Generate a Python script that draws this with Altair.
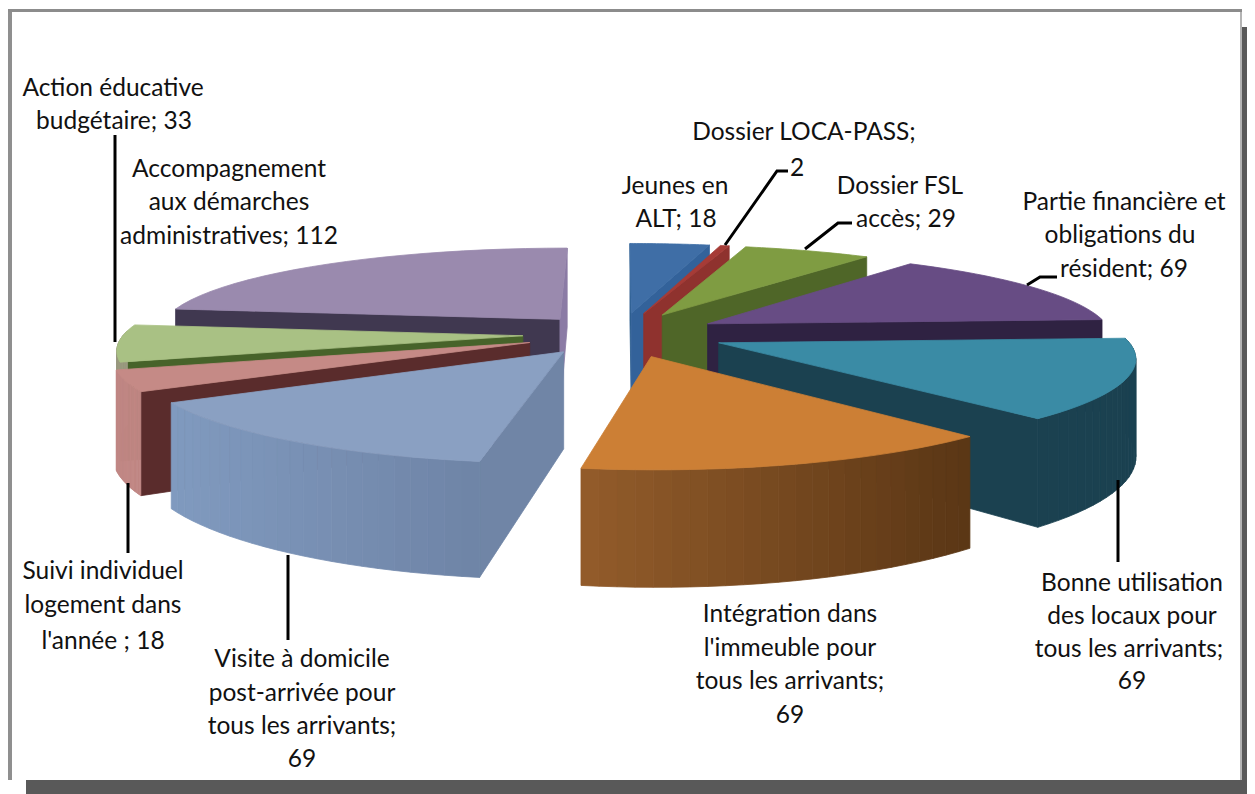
import math
import altair as alt
import pandas as pd

# ---- chart values
CATEGORIES = ["Jeunes en ALT", "Dossier LOCA-PASS", "Dossier FSL accès",
              "Partie financière et obligations du résident",
              "Bonne utilisation des locaux pour tous les arrivants",
              "Intégration dans l'immeuble pour tous les arrivants",
              "Visite à domicile post-arrivée pour tous les arrivants",
              "Suivi individuel logement dans l'année",
              "Action éducative budgétaire",
              "Accompagnement aux démarches administratives"]
VALUES = [18, 2, 29, 69, 69, 69, 69, 18, 33, 112]

# ---- style per slice: top, wall at start edge, wall at end edge, outer wall left, outer wall right
STYLE = [
    ("#3f6ea6", "#2f5f90", "#33629a", "#33629a", "#33629a"),
    ("#a63b36", "#8f322e", "#8f322e", "#8f322e", "#8f322e"),
    ("#7f9c42", "#4f6628", "#4f6628", "#4f6628", "#4f6628"),
    ("#674c84", "#2f2242", "#2f2242", "#2f2242", "#2f2242"),
    ("#3a8ba5", "#1b4150", "#1b4150", "#1b4150", "#1b4150"),
    ("#cc7f35", "#5a3615", "#5a3615", "#935c2a", "#5a3615"),
    ("#8aa0c2", "#7085a6", "#7085a6", "#809abf", "#6f84a6"),
    ("#c58a86", "#5a2c2c", "#5a2c2c", "#c08784", "#c08784"),
    ("#a9c184", "#47632a", "#47632a", "#9a9a80", "#9a9a80"),
    ("#9a8aae", "#403850", "#8b7ba5", "#8b7ba5", "#8b7ba5"),
]
PAINT_ORDER = [0, 1, 2, 3, 4, 5, 9, 8, 7, 6]

# ---- 3D pie model
CX, CY, RX, RY, KX, KY, H = 620, 334, 405, 87, 0.14, 0.16, 94
EXPLODE = [0.25, 0.25, 0.25, 0.25, 0.26, 0.26, 0.24, 0.24, 0.24, 0.23]
RADIUS = [1, 1, 1, 1, 1, 1, 1, 1, 0.985, 1]
STEPS = 24

def project(X, D):
    sx = 1 / (1 + KX * D)
    s = 1 / (1 + KY * D)
    return CX + X * sx * RX, CY - D * s * RY, s

def hex2rgb(h):
    return [int(h[i:i + 2], 16) for i in (1, 3, 5)]

def mix(a, b, t):
    a, b = hex2rgb(a), hex2rgb(b)
    return "#%02x%02x%02x" % tuple(round(p + (q - p) * t) for p, q in zip(a, b))

total = sum(VALUES)
rows = []
face = 0

def add_face(points, col):
    global face
    face += 1
    for i, (x, y) in enumerate(list(points) + [points[0]]):
        rows.append({"face": face, "i": i, "x": x, "y": y, "col": col})

starts = [sum(VALUES[:i]) / total * 2 * math.pi for i in range(len(VALUES))]
for idx in PAINT_ORDER:
    a0 = starts[idx]
    a1 = a0 + VALUES[idx] / total * 2 * math.pi
    mid = (a0 + a1) / 2
    ex, ed = EXPLODE[idx] * math.sin(mid), EXPLODE[idx] * math.cos(mid)
    r = RADIUS[idx]
    top_col, wall0, wall1, out_l, out_r = STYLE[idx]
    angs = [a0 + (a1 - a0) * j / STEPS for j in range(STEPS + 1)]
    apex = project(ex, ed)
    arc = [project(ex + r * math.sin(a), ed + r * math.cos(a)) for a in angs]
    inner = arc[STEPS // 2]
    for corner, col in ((arc[0], wall0), (arc[-1], wall1)):
        ux, uy = corner[0] - apex[0], corner[1] - apex[1]
        side_in = ux * (inner[1] - apex[1]) - uy * (inner[0] - apex[0])
        side_wall = ux  # sign of the cross product with the downward direction
        if side_in * side_wall > 0:
            continue
        add_face([apex[:2], corner[:2],
                  (corner[0], corner[1] + H * corner[2]),
                  (apex[0], apex[1] + H * apex[2])], col)
    xs = [p[0] for p in arc]
    lo, hi = min(xs), max(xs)
    for j in range(STEPS):
        if math.cos((angs[j] + angs[j + 1]) / 2) > 0.05:
            continue
        p, q = arc[j], arc[j + 1]
        t = ((p[0] + q[0]) / 2 - lo) / max(hi - lo, 1)
        add_face([p[:2], q[:2], (q[0], q[1] + H * q[2]), (p[0], p[1] + H * p[2])],
                 mix(out_l, out_r, t))
    add_face([apex[:2]] + [p[:2] for p in arc], top_col)

faces = pd.DataFrame(rows)

# ---- page layout (labels, leaders, frame)
LABELS = [
    (113, 87, "Action éducative"), (114, 120, "budgétaire; 33"),
    (229, 168, "Accompagnement"), (229, 201, "aux démarches"), (229, 235, "administratives; 112"),
    (675, 185, "Jeunes en"), (676, 218, "ALT; 18"),
    (804, 131, "Dossier LOCA-PASS;"), (797, 167, "2"),
    (900, 185, "Dossier FSL"), (906, 218, "accès; 29"),
    (1124, 201, "Partie financière et"), (1120, 234, "obligations du"), (1124, 268, "résident; 69"),
    (1132, 582, "Bonne utilisation"), (1132, 615, "des locaux pour"),
    (1129, 648, "tous les arrivants;"), (1132, 680, "69"),
    (790, 613, "Intégration dans"), (790, 647, "l'immeuble pour"),
    (790, 680, "tous les arrivants;"), (790, 714, "69"),
    (103, 570, "Suivi individuel"), (103, 604, "logement dans"), (103, 640, "l'année  ; 18"),
    (302, 658, "Visite à domicile"), (302, 692, "post-arrivée pour"),
    (302, 725, "tous les arrivants;"), (302, 758, "69"),
]
LEADERS = [
    [(115, 135), (115, 342)],
    [(128, 483), (128, 553)],
    [(288, 555), (288, 640)],
    [(1118, 480), (1118, 562)],
    [(1027, 285), (1040, 277), (1057, 277)],
    [(805, 249), (838, 223), (852, 223)],
    [(725, 245), (777, 171), (788, 171)],
]
FRAME = [
    (8, 12, 9, 780, "#8f8f8f"),
    (8, 1242, 9, 12, "#8c8c8c"),
    (1240, 1242, 12, 780, "#b4b4b4"),
    (1242, 1247, 27, 794, "#595959"),
    (26, 1247, 780, 794, "#595959"),
]

X = alt.X("x:Q", scale=alt.Scale(domain=[8, 1247], nice=False, zero=False), axis=None)
Y = alt.Y("y:Q", scale=alt.Scale(domain=[794, 8], nice=False, zero=False), axis=None)

frame_df = pd.DataFrame(FRAME, columns=["x", "x2", "y", "y2", "col"])
frame = alt.Chart(frame_df).mark_rect().encode(
    x=X, x2="x2:Q", y=Y, y2="y2:Q", color=alt.Color("col:N", scale=None))

pie = alt.Chart(faces).mark_line(strokeWidth=0.8).encode(
    x=X, y=Y, order=alt.Order("i:Q"), detail="face:N",
    fill=alt.Fill("col:N", scale=None),
    stroke=alt.Stroke("col:N", scale=None))

lead_df = pd.DataFrame([{"k": n, "i": i, "x": p[0], "y": p[1]}
                        for n, pts in enumerate(LEADERS) for i, p in enumerate(pts)])
leaders = alt.Chart(lead_df).mark_line(color="#000000", strokeWidth=3).encode(
    x=X, y=Y, order=alt.Order("i:Q"), detail="k:N")

text_df = pd.DataFrame(LABELS, columns=["x", "y", "t"])
texts = alt.Chart(text_df).mark_text(font="Lato", fontSize=24.5, color="#111111",
                                     align="center", baseline="middle", dy=2).encode(
    x=X, y=Y, text="t:N")

chart = alt.layer(frame, pie, leaders, texts).properties(
    width=1239, height=786, padding=0, autosize=alt.AutoSizeParams(type="none"),
    background="#ffffff", view=alt.ViewConfig(stroke=None))

chart.save("out.html", embed_options={"renderer": "svg", "actions": False})
